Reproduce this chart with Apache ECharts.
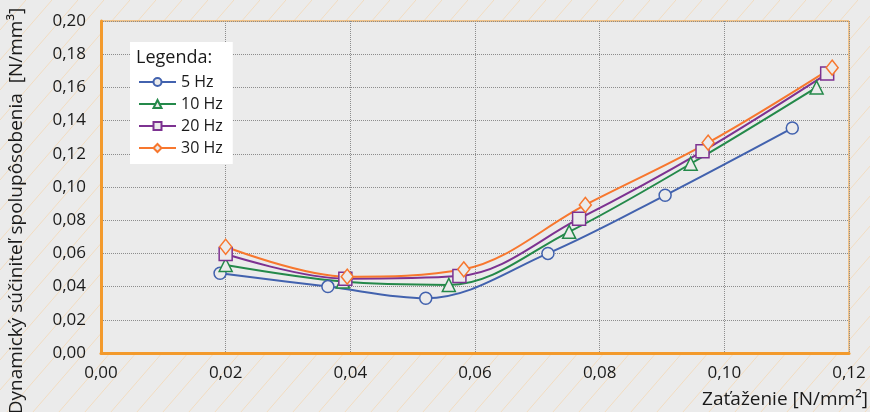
<!DOCTYPE html>
<html>
<head>
<meta charset="utf-8">
<script src="https://cdn.jsdelivr.net/npm/echarts@6/dist/echarts.min.js"></script>
<style>
  html, body { margin: 0; padding: 0; }
  #chart { width: 870px; height: 412px; }
</style>
</head>
<body>
<div id="chart"></div>
<script>
// data
const seriesNames = ["5 Hz", "10 Hz", "20 Hz", "30 Hz"];
const load5 = [0.0191, 0.0364, 0.0521, 0.0717, 0.0905, 0.1109];
const coef5 = [0.048, 0.040, 0.033, 0.060, 0.095, 0.1355];
const load10 = [0.0200, 0.0388, 0.0558, 0.0751, 0.0946, 0.1148];
const coef10 = [0.053, 0.043, 0.041, 0.073, 0.114, 0.160];
const load20 = [0.0200, 0.0392, 0.0575, 0.0767, 0.0965, 0.1165];
const coef20 = [0.0596, 0.0448, 0.0464, 0.0809, 0.1215, 0.1683];
const load30 = [0.0200, 0.0395, 0.0582, 0.0777, 0.0974, 0.1173];
const coef30 = [0.064, 0.046, 0.0504, 0.0892, 0.1267, 0.1719];

const colors = ["#4262ae", "#24894a", "#7d3291", "#f7772e"];
const symbols = ["circle", "triangle", "rect", "diamond"];
const symbolSizes = [12, 13, 13, [12, 15]];

const font = "'Open Sans', 'Noto Sans', sans-serif";
const orange = "#f39a2c";
const bg = "#ebebeb";

// hatch pattern for the area outside the plot
function hatch() {
  const c = document.createElement("canvas");
  c.width = 26; c.height = 30;
  const ctx = c.getContext("2d");
  ctx.fillStyle = bg;
  ctx.fillRect(0, 0, 26, 30);
  ctx.strokeStyle = "#f2dcc0";
  ctx.lineWidth = 1;
  ctx.beginPath();
  ctx.moveTo(-2, 32.3); ctx.lineTo(28, -2.3);
  ctx.stroke();
  return c;
}

function comma(v) {
  return v.toFixed(2).replace(".", ",");
}

function pairs(xs, ys) {
  return xs.map((x, i) => [x, ys[i]]);
}

const allData = [pairs(load5, coef5), pairs(load10, coef10), pairs(load20, coef20), pairs(load30, coef30)];

let myChart = echarts.init(document.getElementById("chart"));
let series = [];
for (let i = 0; i < seriesNames.length; i++) {
  series.push({
    name: seriesNames[i],
    type: "line",
    data: allData[i],
    smooth: 0.35,
    symbol: symbols[i],
    symbolSize: symbolSizes[i],
    lineStyle: { color: colors[i], width: 2 },
    itemStyle: { color: bg, borderColor: colors[i], borderWidth: 1.5 },
    emphasis: { disabled: true },
  });
}

myChart.setOption({
  animation: false,
  backgroundColor: { image: hatch(), repeat: "repeat" },
  textStyle: { fontFamily: font },
  title: {
    text: "Legenda:",
    left: 136,
    top: 49,
    padding: 0,
    textStyle: { fontFamily: font, fontSize: 18, fontWeight: "normal", color: "#1a1a1a" },
  },
  legend: {
    data: seriesNames,
    orient: "vertical",
    left: 130,
    top: 42,
    backgroundColor: "#ffffff",
    padding: [32, 10, 8, 8],
    itemWidth: 37,
    itemHeight: 10,
    itemGap: 6,
    textStyle: { fontFamily: font, fontSize: 16, lineHeight: 14, color: "#1a1a1a" },
  },
  grid: {
    left: 101,
    right: 21,
    top: 21,
    bottom: 59,
    show: true,
    backgroundColor: bg,
    borderColor: orange,
    borderWidth: 1,
  },
  xAxis: {
    type: "value",
    min: 0,
    max: 0.12,
    interval: 0.02,
    axisLine: { show: true, onZero: false, lineStyle: { color: orange, width: 3 } },
    axisTick: { show: false },
    axisLabel: { formatter: comma, fontSize: 17, color: "#1a1a1a", margin: 12, fontFamily: font },
    splitLine: { show: true, lineStyle: { color: "#8c8c8c", type: "dotted", width: 1 } },
  },
  yAxis: {
    type: "value",
    min: 0,
    max: 0.2,
    interval: 0.02,
    axisLine: { show: true, onZero: false, lineStyle: { color: orange, width: 3 } },
    axisTick: { show: false },
    axisLabel: { formatter: comma, fontSize: 17, color: "#1a1a1a", margin: 15, fontFamily: font },
    splitLine: { show: true, lineStyle: { color: "#8c8c8c", type: "dotted", width: 1 } },
  },
  graphic: [
    {
      type: "text",
      x: 17,
      y: 211,
      rotation: Math.PI / 2,
      z: 100,
      style: {
        text: "Dynamický súčiniteľ spolupôsobenia  [N/mm³]",
        fontFamily: font,
        fontSize: 19,
        fill: "#1a1a1a",
        align: "center",
        verticalAlign: "middle",
      },
    },
    {
      type: "text",
      x: 868,
      y: 400,
      z: 100,
      style: {
        text: "Zaťaženie [N/mm²]",
        fontFamily: font,
        fontSize: 19,
        fill: "#1a1a1a",
        align: "right",
        verticalAlign: "middle",
      },
    },
  ],
  series: series,
});
window.onresize = myChart.resize;
</script>
</body>
</html>
